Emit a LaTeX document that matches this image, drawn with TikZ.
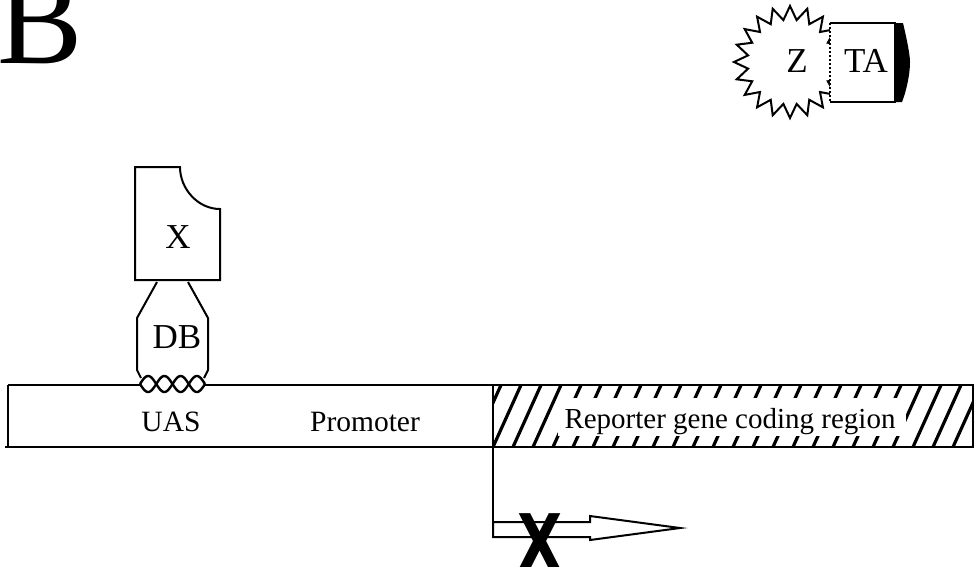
\documentclass[tikz,border=0pt]{standalone}
\usepackage{fontspec}
\setmainfont{Liberation Serif}
\setsansfont{Liberation Sans}
\newfontfamily\heavyfont{DejaVu Sans}
\usetikzlibrary{shapes.geometric}
\begin{document}
\begin{tikzpicture}[x=1pt,y=-1pt,line width=2pt,
  lbl/.style={font=\fontsize{29.5}{31}\selectfont,inner sep=0pt,anchor=base},
  prot/.style={font=\fontsize{35}{38}\selectfont,inner sep=0pt},
  hatchline/.style={line width=3.2pt}]
\useasboundingbox (0,0) rectangle (974,566);
\clip (0,0) rectangle (974,566);
% panel letter
\node[anchor=base west,inner sep=0pt,font=\fontsize{128}{128}\selectfont] (B) at (-3,63) {B};
% Z - TA fusion
\node[star,star points=20,star point ratio=1.32,minimum size=112,draw,inner sep=0pt] (star) at (790,62) {};
\node[prot] (Z) at (797,61) {Z};
\fill[white] (830,18) rectangle (897,106);
\draw (830,23) -- (895,23) -- (895,102) -- (830,102);
\draw[dotted] (830,23) -- (830,102);
\fill (895,23) -- (903,23) .. controls (907,40) and (910,55) .. (910,62) .. controls (910,75) and (906,92) .. (902,102) -- (895,102) -- cycle;
\node[prot] (TA) at (866,61) {TA};
% X protein
\draw (135,167) -- (180,167) .. controls (180,189) and (198,209) .. (220,209) -- (220,280) -- (135,280) -- cycle;
\node[prot] (X) at (178,237) {X};
% DB domain
\draw (157,282) -- (137,318) -- (137,370) -- (141,378);
\draw (188,282) -- (208,318) -- (208,370) -- (204,378);
\node[prot] (DB) at (177,337) {DB};
% UAS coil
\draw[line width=2.4pt] plot[domain=0:65,samples=120] ({140+\x},{384-8*sin(\x*11.0769)});
\draw[line width=2.4pt] plot[domain=0:65,samples=120] ({140+\x},{384+8*sin(\x*11.0769)});
% DNA bar
\draw (8,385) -- (140,385);
\draw (205,385) -- (973,385) -- (973,447) -- (5,447);
\draw (8,385) -- (8,447);
\begin{scope}
\clip (493,385) rectangle (973,447);
\foreach \i in {-2,...,25} \draw[hatchline] ({493+20*\i},447) -- ++(28,-62);
\end{scope}
\draw (493,385) -- (493,447);
\fill[white] (558,398) rectangle (906,436);
\node[lbl] (uas) at (171,431) {UAS};
\node[lbl] (prom) at (365,431) {Promoter};
\node[lbl,font=\fontsize{29}{31}\selectfont] (rep) at (730,428) {Reporter gene coding region};
% transcription arrow (blocked)
\coordinate (tss) at (493,447);
\coordinate (bend) at (493,522);
\draw (tss) -- (bend);
\draw (bend) -- (590,522) -- (590,516) -- (680,528) -- (590,540) -- (590,537) -- (493,537) -- cycle;
\node[anchor=base,inner sep=0pt,font=\heavyfont\bfseries\fontsize{78}{78}\selectfont] (block) at (540,570) {\scalebox{0.75}[1]{X}};
\end{tikzpicture}
\end{document}
